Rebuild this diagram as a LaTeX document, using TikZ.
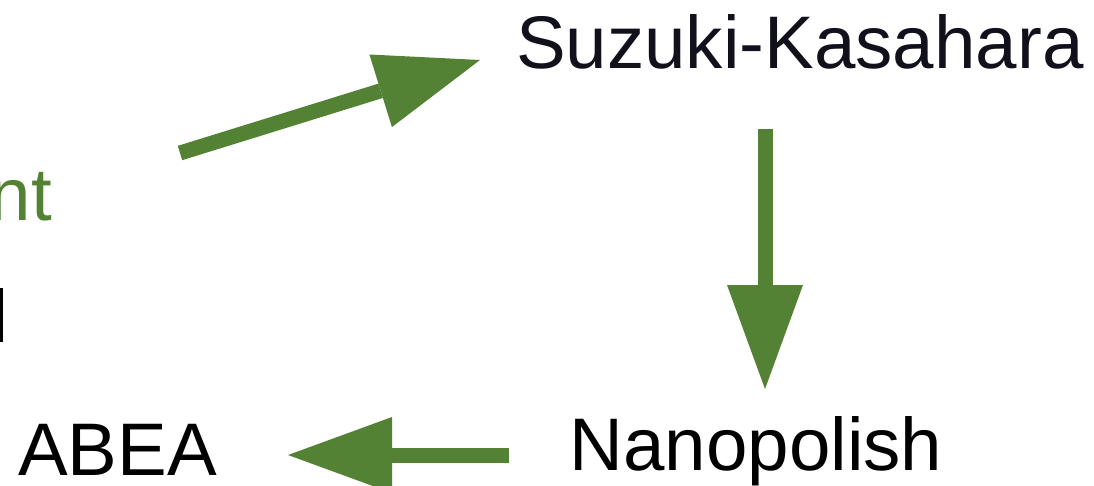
\documentclass[tikz,border=0pt]{standalone}
\usepackage{fontspec}
\setmainfont{Liberation Sans}
\usetikzlibrary{arrows.meta}
\definecolor{arrowgreen}{RGB}{84,130,53}
\definecolor{navytext}{RGB}{17,17,27}
\begin{document}
\begin{tikzpicture}[x=1pt,y=-1pt,
  lbl/.style={inner sep=0pt, font=\fontsize{74.5}{80}\selectfont},
  flow/.style={draw=arrowgreen, line width=15pt,
    -{Triangle[length=104pt,width=76pt,line width=0pt]}}]
\useasboundingbox (0,0) rectangle (1094,485);
\node[lbl, anchor=base west, text=navytext] (suz) at (516,68) {Suzuki-Kasahara};
\node[lbl, anchor=base west, text=black] (nano) at (569.5,470) {Nanopolish};
\node[lbl, anchor=base west, text=black] (abea) at (18,475) {ABEA};
\node[lbl, anchor=base east, text=arrowgreen] (align) at (52,220) {nt};
\fill[black] (0,288) rectangle (2.5,342);
\coordinate (d1s) at (180,153);
\coordinate (d1e) at (480,60);
\coordinate (d2s) at (765,129);
\coordinate (d2e) at (765,389);
\coordinate (d3s) at (509,455);
\coordinate (d3e) at (288,455);
\draw[flow] (d1s) -- (d1e);
\draw[flow] (d2s) -- (d2e);
\draw[flow] (d3s) -- (d3e);
\end{tikzpicture}
\end{document}
